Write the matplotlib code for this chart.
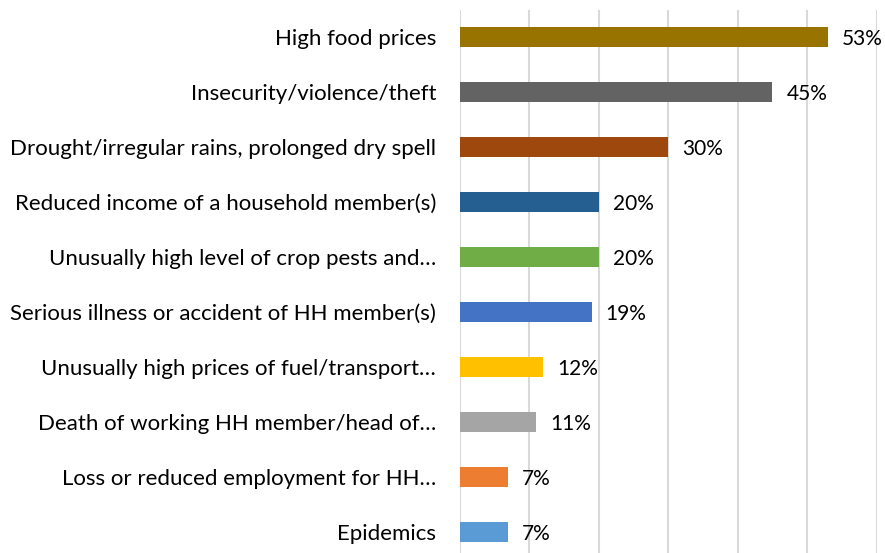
import matplotlib.pyplot as plt

categories = [
    "High food prices",
    "Insecurity/violence/theft",
    "Drought/irregular rains, prolonged dry spell",
    "Reduced income of a household member(s)",
    "Unusually high level of crop pests and\u2026",
    "Serious illness or accident of HH member(s)",
    "Unusually high prices of fuel/transport\u2026",
    "Death of working HH member/head of\u2026",
    "Loss or reduced employment for HH\u2026",
    "Epidemics",
]
values = [53, 45, 30, 20, 20, 19, 12, 11, 7, 7]
colors = ["#997300", "#636363", "#9E480E", "#255E91", "#70AD47",
          "#4472C4", "#FFC000", "#A5A5A5", "#ED7D31", "#5B9BD5"]

plt.rcParams['font.family'] = ['Lato', 'DejaVu Sans']

fig = plt.figure(figsize=(8.85, 5.53), dpi=100)
ax = fig.add_axes([459.7 / 885, 0, (876.7 - 459.7) / 885, 1 - 10 / 553])

pos = list(range(len(categories)))
ax.barh(pos, values, height=0.36, color=colors, zorder=3)
for p, v in zip(pos, values):
    ax.text(v + 2.0, p + 0.03, f"{v}%", va="center", ha="left", fontsize=15, color="#000000")

ax.set_xlim(0, 60)
ax.set_ylim(9.38, -0.49)
ax.set_yticks(pos)
ax.set_yticklabels(categories, fontsize=16)
ax.tick_params(axis="y", length=0, pad=17)
ax.set_xticks(range(0, 61, 10))
ax.tick_params(axis="x", length=0, labelbottom=False)
ax.grid(axis="x", color="#D9D9D9", linewidth=1.5, zorder=0)
for s in ax.spines.values():
    s.set_visible(False)

fig.savefig("out.png", dpi=100)
